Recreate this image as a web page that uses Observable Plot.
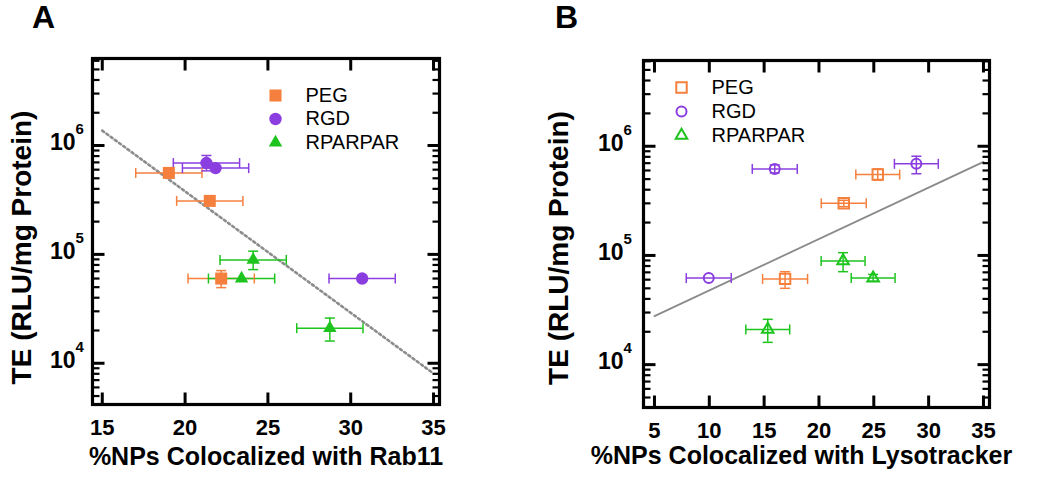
<!DOCTYPE html>
<html><head><meta charset="utf-8">
<script src="https://cdn.jsdelivr.net/npm/d3@7"></script>
<script src="https://cdn.jsdelivr.net/npm/@observablehq/plot@0.6"></script>
<style>
html,body{margin:0;padding:0;background:#fff;}
#wrap{position:relative;width:1050px;height:487px;overflow:hidden;background:#fff;}
#wrap svg{position:absolute;top:0;}
</style></head><body><div id="wrap"></div>
<script>
// ---------- shared ----------
const series = ["PEG", "RGD", "RPARPAR"];
const colors = ["#F5803E", "#8B3EE0", "#1EC41E"];
const symbols = ["square", "circle", "triangle"];

// ---------- Panel A (Rab11) ----------
const aPegX = [19.02, 21.49, 22.18];
const aPegY = [5.6e5, 3.1e5, 6.0e4];
const aPegXErr = [2.0, 2.0, 2.0];
const aPegYLo = [null, null, 4.95e4];
const aPegYHi = [null, null, 7.1e4];

const aRgdX = [21.29, 21.84, 30.69];
const aRgdY = [6.9e5, 6.2e5, 6.0e4];
const aRgdXErr = [2.0, 2.0, 2.0];
const aRgdYLo = [5.85e5, null, null];
const aRgdYHi = [8.1e5, null, null];

const aRparX = [24.11, 23.41, 28.74];
const aRparY = [8.9e4, 6.0e4, 2.1e4];
const aRparXErr = [2.0, 2.0, 2.0];
const aRparYLo = [7.25e4, null, 1.6e4];
const aRparYHi = [1.07e5, null, 2.6e4];

const aFitX = [15, 35];
const aFitY = [1.37e6, 8.05e3];

const aXTicks = [15, 20, 25, 30, 35];
const aXTitle = "%NPs Colocalized with Rab11";

// ---------- Panel B (Lysotracker) ----------
const bPegX = [25.36, 22.26, 16.91];
const bPegY = [5.5e5, 3.0e5, 6.1e4];
const bPegXErr = [2.0, 2.05, 2.05];
const bPegYLo = [4.9e5, 2.8e5, 5.0e4];
const bPegYHi = [6.2e5, 3.2e5, 7.1e4];

const bRgdX = [15.97, 28.88, 9.95];
const bRgdY = [6.2e5, 6.9e5, 6.2e4];
const bRgdXErr = [2.05, 2.0, 2.05];
const bRgdYLo = [5.7e5, 5.6e5, null];
const bRgdYHi = [6.75e5, 8.1e5, null];

const bRparX = [22.2, 24.94, 15.33];
const bRparY = [8.9e4, 6.2e4, 2.1e4];
const bRparXErr = [2.0, 2.0, 2.0];
const bRparYLo = [7.1e4, 5.8e4, 1.6e4];
const bRparYHi = [1.06e5, 6.7e4, 2.6e4];

const bFitX = [5, 35];
const bFitY = [2.78e4, 7.2e5];

const bXTicks = [5, 10, 15, 20, 25, 30, 35];
const bXTitle = "%NPs Colocalized with Lysotracker";

// ---------- shared axis content ----------
const yTitle = "TE (RLU/mg Protein)";
const yMajor = [1e4, 1e5, 1e6];
const yMinor = [5e3, 6e3, 7e3, 8e3, 9e3,
  2e4, 3e4, 4e4, 5e4, 6e4, 7e4, 8e4, 9e4,
  2e5, 3e5, 4e5, 5e5, 6e5, 7e5, 8e5, 9e5,
  2e6, 3e6, 4e6, 5e6, 6e6];

// ---------- build tables ----------
function build(name, X, Y, XE, YL, YH) {
  return X.map((x, i) => ({series: name, x, y: Y[i], xlo: x - XE[i], xhi: x + XE[i], ylo: YL[i], yhi: YH[i]}));
}
const aRows = [
  ...build("PEG", aPegX, aPegY, aPegXErr, aPegYLo, aPegYHi),
  ...build("RGD", aRgdX, aRgdY, aRgdXErr, aRgdYLo, aRgdYHi),
  ...build("RPARPAR", aRparX, aRparY, aRparXErr, aRparYLo, aRparYHi)
];
const bRows = [
  ...build("PEG", bPegX, bPegY, bPegXErr, bPegYLo, bPegYHi),
  ...build("RGD", bRgdX, bRgdY, bRgdXErr, bRgdYLo, bRgdYHi),
  ...build("RPARPAR", bRparX, bRparY, bRparXErr, bRparYLo, bRparYHi)
];
const aFit = aFitX.map((x, i) => ({x, y: aFitY[i]}));
const bFit = bFitX.map((x, i) => ({x, y: bFitY[i]}));

// custom symbols: error-bar caps and one-sided frame ticks (length = r)
const len = s => Math.sqrt(s / Math.PI);
const capV = {draw(c, s) { const r = len(s); c.moveTo(0, -r); c.lineTo(0, r); }};
const capH = {draw(c, s) { const r = len(s); c.moveTo(-r, 0); c.lineTo(r, 0); }};
const tickUp = {draw(c, s) { c.moveTo(0, 0); c.lineTo(0, -len(s)); }};
const tickDown = {draw(c, s) { c.moveTo(0, 0); c.lineTo(0, len(s)); }};
const tickRight = {draw(c, s) { c.moveTo(0, 0); c.lineTo(len(s), 0); }};
const tickLeft = {draw(c, s) { c.moveTo(0, 0); c.lineTo(-len(s), 0); }};

const H = 487;
const FONT = "Liberation Sans";
const tk = (data, ch, anchor, sym, r, sw) =>
  Plot.dot(data, {[ch]: d => d, frameAnchor: anchor, symbol: sym, r, stroke: "black", fill: "none", strokeWidth: sw});

function plotWith(cfg, marks) {
  const svg = Plot.plot({
    width: cfg.width, height: H,
    marginTop: cfg.mt, marginRight: cfg.mr, marginBottom: cfg.mb, marginLeft: cfg.ml,
    x: {domain: cfg.xDomain, axis: null},
    y: {type: "log", domain: cfg.yDomain, axis: null},
    color: {domain: series, range: colors},
    style: {fontFamily: FONT, color: "black", background: "transparent", overflow: "visible"},
    marks
  });
  svg.style.left = cfg.left + "px";
  return svg;
}

function makePanel(cfg) {
  const rows = cfg.rows;
  const yRows = rows.filter(d => d.ylo != null);
  const marks = [
    Plot.line(cfg.fit, {x: "x", y: "y", ...cfg.fitStyle}),
    Plot.ruleY(rows, {y: "y", x1: "xlo", x2: "xhi", stroke: "series", strokeWidth: 1.5}),
    Plot.dot(rows, {x: "xlo", y: "y", symbol: capV, r: 5, stroke: "series", fill: "none", strokeWidth: 1.5}),
    Plot.dot(rows, {x: "xhi", y: "y", symbol: capV, r: 5, stroke: "series", fill: "none", strokeWidth: 1.5}),
    Plot.ruleX(yRows, {x: "x", y1: "ylo", y2: "yhi", stroke: "series", strokeWidth: 1.5}),
    Plot.dot(yRows, {x: "x", y: "ylo", symbol: capH, r: 5, stroke: "series", fill: "none", strokeWidth: 1.5}),
    Plot.dot(yRows, {x: "x", y: "yhi", symbol: capH, r: 5, stroke: "series", fill: "none", strokeWidth: 1.5})
  ];
  series.forEach((s, i) => {
    const sty = cfg.filled
      ? {fill: colors[i], stroke: "none", r: cfg.rs[i]}
      : {fill: "none", stroke: colors[i], strokeWidth: 2, r: cfg.rs[i]};
    marks.push(Plot.dot(rows.filter(d => d.series === s), {x: "x", y: "y", symbol: symbols[i], ...sty}));
    marks.push(Plot.dot([s], {frameAnchor: "top-left", dx: cfg.legDx, dy: cfg.legDy + i * cfg.legStep, symbol: symbols[i], ...sty}));
    marks.push(Plot.text([s], {frameAnchor: "top-left", dx: cfg.legTx, dy: cfg.legDy + i * cfg.legStep, text: d => d, textAnchor: "start", lineAnchor: "middle", fontSize: 20}));
  });
  marks.push(Plot.text(cfg.xTicks, {x: d => d, text: d => String(d), frameAnchor: "bottom", dy: cfg.xLabDy, textAnchor: "middle", lineAnchor: "middle", fontSize: 22, fontWeight: "bold"}));
  marks.push(Plot.text(yMajor, {y: d => d, text: () => "10", frameAnchor: "left", textAnchor: "end", dx: cfg.yLabDx, dy: -3, lineAnchor: "middle", fontSize: 23, fontWeight: "bold"}));
  marks.push(Plot.text(yMajor, {y: d => d, text: d => String(Math.round(Math.log10(d))), frameAnchor: "left", textAnchor: "start", dx: cfg.yLabDx, dy: -16, lineAnchor: "middle", fontSize: 15, fontWeight: "bold"}));
  marks.push(Plot.text([cfg.xTitle], {text: d => d, frameAnchor: "bottom", dx: cfg.xTitleDx, dy: cfg.xTitleDy, textAnchor: "middle", lineAnchor: "middle", fontSize: 25, fontWeight: "bold"}));
  marks.push(Plot.text([yTitle], {text: d => d, frameAnchor: "left", dx: cfg.yTitleDx, dy: cfg.yTitleDy, rotate: -90, textAnchor: "middle", lineAnchor: "middle", fontSize: 28, fontWeight: "bold"}));
  marks.push(Plot.text([cfg.label], {text: d => d, frameAnchor: "top-left", dx: cfg.labDx, dy: cfg.labDy, textAnchor: "middle", lineAnchor: "middle", fontSize: 32, fontWeight: "bold"}));

  // overlay: frame and inward ticks on all four sides
  const frameMarks = [
    tk(cfg.xTicks, "x", "bottom", tickUp, 12, 3),
    tk(cfg.xTicks, "x", "top", tickDown, 12, 3),
    tk(yMajor, "y", "left", tickRight, 12, 3),
    tk(yMajor, "y", "right", tickLeft, 12, 3),
    tk(yMinor, "y", "left", tickRight, 7, 2.2),
    tk(yMinor, "y", "right", tickLeft, 7, 2.2),
    Plot.frame({stroke: "black", strokeWidth: 3.2})
  ];
  return [plotWith(cfg, marks), plotWith(cfg, frameMarks)];
}

const wrap = document.getElementById("wrap");
wrap.append(...makePanel({
  left: 0, width: 520, mt: 58, mr: 81, mb: 83, ml: 92,
  xDomain: [14.41, 35.36], yDomain: [4.18e3, 6.3e6],
  rows: aRows, fit: aFit,
  fitStyle: {stroke: "#8c8c8c", strokeWidth: 2.6, strokeDasharray: "2.2,3"},
  filled: true, rs: [6.8, 6.2, 5.0],
  legDx: 183, legDy: 37, legStep: 23.5, legTx: 213,
  xTicks: aXTicks, xLabDy: 23.5, yLabDx: -17,
  xTitle: aXTitle, xTitleDx: 0, xTitleDy: 52,
  yTitleDx: -70, yTitleDy: 16,
  label: "A", labDx: -49, labDy: -41
}));
wrap.append(...makePanel({
  left: 520, width: 530, mt: 60, mr: 61, mb: 80, ml: 123,
  xDomain: [4.0, 35.55], yDomain: [4.05e3, 6.1e6],
  rows: bRows, fit: bFit,
  fitStyle: {stroke: "#8a8a8a", strokeWidth: 1.8},
  filled: false, rs: [5.9, 5.0, 4.3],
  legDx: 38, legDy: 27, legStep: 24, legTx: 68,
  xTicks: bXTicks, xLabDy: 23, yLabDx: -20,
  xTitle: bXTitle, xTitleDx: -15, xTitleDy: 48,
  yTitleDx: -84, yTitleDy: 14,
  label: "B", labDx: -77, labDy: -43
}));
</script></body></html>
